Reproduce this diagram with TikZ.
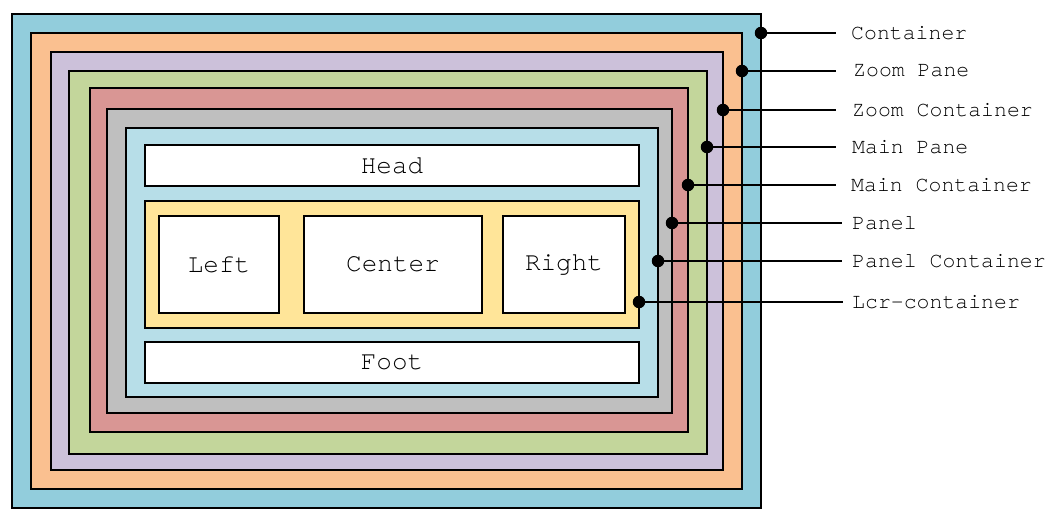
\documentclass[tikz,border=0pt]{standalone}
\usepackage{fontspec}
\setmonofont{TeX Gyre Cursor}
\definecolor{cContainer}{HTML}{92CDDC}
\definecolor{cZoomPane}{HTML}{FAC090}
\definecolor{cZoomCont}{HTML}{CCC1DA}
\definecolor{cMainPane}{HTML}{C3D69B}
\definecolor{cMainCont}{HTML}{D99694}
\definecolor{cPanel}{HTML}{BFBFBF}
\definecolor{cPanelCont}{HTML}{B7DEE8}
\definecolor{cLcr}{HTML}{FFE599}
\begin{document}
\begin{tikzpicture}[x=1pt, y=-1pt,
    layer/.style={draw=black, line width=1.3pt, inner sep=0pt, outer sep=0pt},
    item/.style={layer, fill=white, font=\fontsize{26}{30}\selectfont\ttfamily},
    dot/.style={circle, fill=black, inner sep=0pt, minimum size=12.5pt},
    lbl/.style={anchor=west, inner xsep=15pt, font=\fontsize{21.5}{25}\selectfont\ttfamily},
    conn/.style={line width=2pt}]
    \useasboundingbox (0,0) rectangle (1055,522);
    % nested containers
    \node[layer, fill=cContainer, minimum width=749pt, minimum height=494pt] (container) at (386.5,261) {};
    \node[layer, fill=cZoomPane, minimum width=711pt, minimum height=456pt] (zoompane) at (386.5,261) {};
    \node[layer, fill=cZoomCont, minimum width=672pt, minimum height=418pt] (zoomcont) at (387,261) {};
    \node[layer, fill=cMainPane, minimum width=638pt, minimum height=383pt] (mainpane) at (388,262.5) {};
    \node[layer, fill=cMainCont, minimum width=598pt, minimum height=344pt] (maincont) at (389,260) {};
    \node[layer, fill=cPanel, minimum width=565pt, minimum height=304pt] (panel) at (389.5,261) {};
    \node[layer, fill=cPanelCont, minimum width=532pt, minimum height=269pt] (panelcont) at (392,262.5) {};
    \node[item, minimum width=494pt, minimum height=41pt] (head) at (392,165.5) {Head};
    \node[layer, fill=cLcr, minimum width=494pt, minimum height=127pt] (lcr) at (392,264.5) {};
    \node[item, minimum width=120pt, minimum height=97pt] (left) at (219,264.5) {Left};
    \node[item, minimum width=178pt, minimum height=97pt] (center) at (393,264.5) {Center};
    \node[item, minimum width=122pt, minimum height=97pt] (right) at (564,264.5) {Right};
    \node[item, minimum width=494pt, minimum height=41pt] (foot) at (392,362.5) {Foot};
    % labels
    \node[lbl] (lcontainer) at (836,33) {Container};
    \node[lbl, inner xsep=17pt] (lzoompane) at (836,71) {Zoom Pane};
    \node[lbl, inner xsep=16pt] (lzoomcont) at (836,110) {Zoom Container};
    \node[lbl, inner xsep=16pt] (lmainpane) at (836,147) {Main Pane};
    \node[lbl] (lmaincont) at (836,185) {Main Container};
    \node[lbl, inner xsep=10pt] (lpanel) at (842,223) {Panel};
    \node[lbl, inner xsep=10pt] (lpanelcont) at (842,261) {Panel Container};
    \node[lbl, inner xsep=9pt] (llcr) at (843,302) {Lcr-container};
    % dots on the right edges
    \node[dot] (dcontainer) at (container.east |- 0,33) {};
    \node[dot] (dzoompane) at (zoompane.east |- 0,71) {};
    \node[dot] (dzoomcont) at (zoomcont.east |- 0,110) {};
    \node[dot] (dmainpane) at (mainpane.east |- 0,147) {};
    \node[dot] (dmaincont) at (maincont.east |- 0,185) {};
    \node[dot] (dpanel) at (panel.east |- 0,223) {};
    \node[dot] (dpanelcont) at (panelcont.east |- 0,261) {};
    \node[dot] (dlcr) at (lcr.east |- 0,302) {};
    \draw[conn] (dcontainer.center) -- (lcontainer.west);
    \draw[conn] (dzoompane.center) -- (lzoompane.west);
    \draw[conn] (dzoomcont.center) -- (lzoomcont.west);
    \draw[conn] (dmainpane.center) -- (lmainpane.west);
    \draw[conn] (dmaincont.center) -- (lmaincont.west);
    \draw[conn] (dpanel.center) -- (lpanel.west);
    \draw[conn] (dpanelcont.center) -- (lpanelcont.west);
    \draw[conn] (dlcr.center) -- (llcr.west);
\end{tikzpicture}
\end{document}
